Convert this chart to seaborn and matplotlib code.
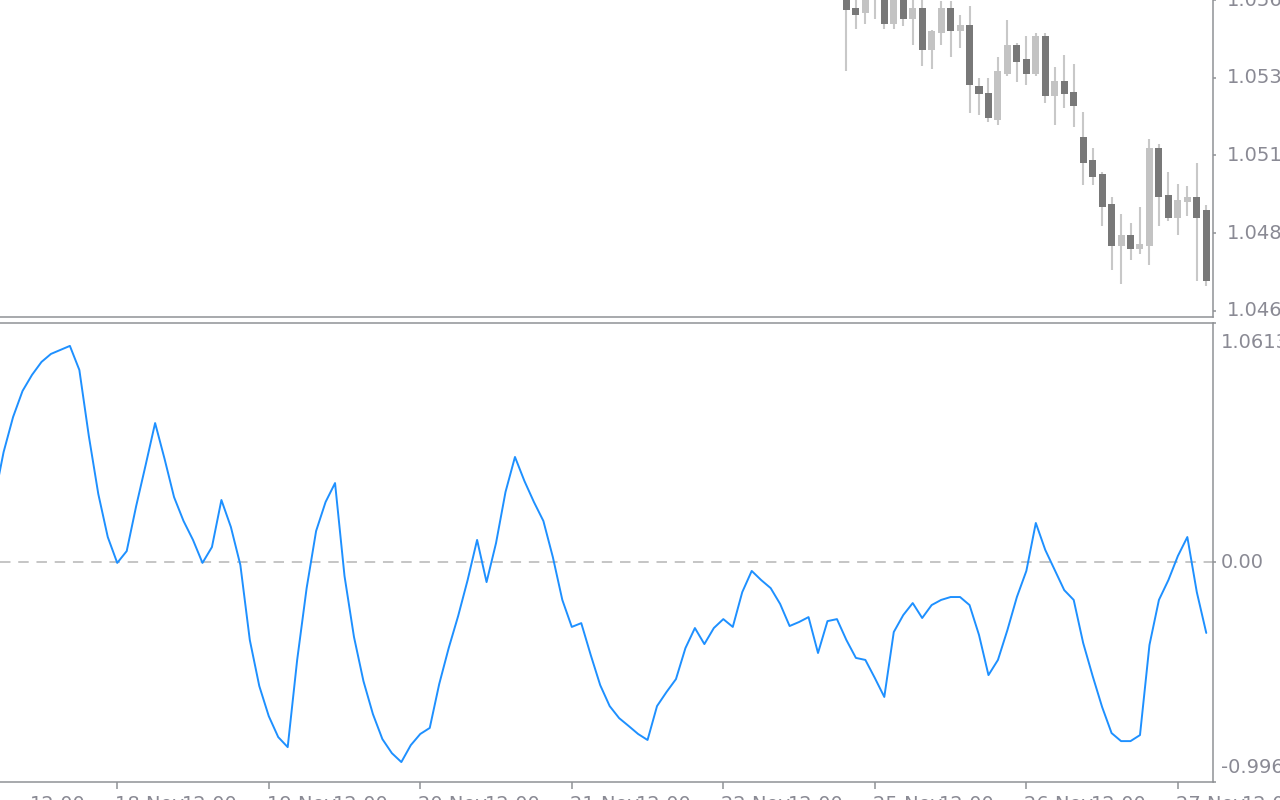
import numpy as np
import matplotlib
matplotlib.use("Agg")
import matplotlib.pyplot as plt
import matplotlib.transforms as mtransforms
import seaborn as sns

# oscillator, one value per bar, first value belongs to bar -1
osc_first_bar = -1
osc_values = [
    0.278, 0.493, 0.650, 0.767, 0.839, 0.897, 0.933, 0.951, 0.969, 0.861,
    0.565, 0.305, 0.112, -0.004, 0.049, 0.251, 0.435, 0.623, 0.462, 0.291,
    0.184, 0.099, -0.004, 0.067, 0.278, 0.157, -0.013, -0.350, -0.556, -0.691,
    -0.785, -0.830, -0.439, -0.117, 0.139, 0.269, 0.354, -0.063, -0.336, -0.534,
    -0.682, -0.794, -0.857, -0.897, -0.821, -0.771, -0.744, -0.547, -0.386, -0.242,
    -0.081, 0.099, -0.090, 0.085, 0.314, 0.471, 0.363, 0.269, 0.184, 0.022,
    -0.170, -0.291, -0.274, -0.417, -0.552, -0.646, -0.700, -0.735, -0.771, -0.798,
    -0.646, -0.583, -0.525, -0.386, -0.296, -0.368, -0.296, -0.256, -0.291, -0.135,
    -0.040, -0.081, -0.117, -0.188, -0.287, -0.269, -0.247, -0.408, -0.265, -0.256,
    -0.350, -0.430, -0.439, -0.520, -0.605, -0.314, -0.238, -0.184, -0.251, -0.193,
    -0.170, -0.157, -0.157, -0.193, -0.327, -0.507, -0.439, -0.305, -0.157, -0.040,
    0.175, 0.054, -0.036, -0.126, -0.170, -0.363, -0.511, -0.650, -0.767, -0.803,
    -0.803, -0.776, -0.372, -0.170, -0.081, 0.027, 0.112, -0.135, -0.318,
]

# candles visible in the price window (earlier bars sit above it)
candle_first_bar = 89
opens = [1.05668, 1.05575, 1.05559, 1.05652, 1.05620, 1.05522, 1.05613, 1.05538, 1.05575, 1.05439,
         1.05494, 1.05575, 1.05500, 1.05521, 1.05324, 1.05302, 1.05214, 1.05363, 1.05454, 1.05410,
         1.05363, 1.05483, 1.05290, 1.05340, 1.05303, 1.05159, 1.05086, 1.05041, 1.04943, 1.04807,
         1.04844, 1.04800, 1.04807, 1.05124, 1.04971, 1.04899, 1.04950, 1.04965, 1.04924]
highs = [1.05715, 1.05613, 1.05652, 1.05683, 1.05645, 1.05636, 1.05626, 1.05604, 1.05607, 1.05505,
         1.05598, 1.05598, 1.05553, 1.05582, 1.05350, 1.05350, 1.05416, 1.05537, 1.05461, 1.05483,
         1.05493, 1.05493, 1.05385, 1.05423, 1.05394, 1.05241, 1.05124, 1.05047, 1.04965, 1.04911,
         1.04882, 1.04933, 1.05152, 1.05136, 1.05047, 1.05009, 1.05003, 1.05076, 1.04940]
lows = [1.05373, 1.05506, 1.05522, 1.05538, 1.05506, 1.05506, 1.05516, 1.05455, 1.05387, 1.05379,
        1.05455, 1.05418, 1.05446, 1.05236, 1.05230, 1.05207, 1.05198, 1.05357, 1.05335, 1.05325,
        1.05357, 1.05268, 1.05198, 1.05252, 1.05191, 1.05004, 1.05004, 1.04873, 1.04730, 1.04686,
        1.04762, 1.04784, 1.04746, 1.04873, 1.04889, 1.04845, 1.04905, 1.04695, 1.04679]
closes = [1.05567, 1.05553, 1.05626, 1.05607, 1.05522, 1.05620, 1.05538, 1.05575, 1.05439, 1.05499,
          1.05575, 1.05500, 1.05521, 1.05325, 1.05296, 1.05220, 1.05372, 1.05454, 1.05401, 1.05363,
          1.05483, 1.05290, 1.05340, 1.05296, 1.05258, 1.05077, 1.05032, 1.04934, 1.04807, 1.04844,
          1.04800, 1.04815, 1.05124, 1.04966, 1.04899, 1.04955, 1.04965, 1.04899, 1.04695]

price_ticks = [1.0460, 1.0485, 1.0510, 1.0535, 1.0560]
price_limits = (1.04580, 1.05588)

osc_limits = (-0.985, 1.073)
osc_labels = ["-0.996", "0.00", "1.0613"]

date_ticks = [12, 28, 44, 60, 76, 92, 108, 124]
date_labels = ["18 Nov", "19 Nov", "20 Nov", "21 Nov", "22 Nov", "25 Nov", "26 Nov", "27 Nov"]
time_ticks = [3, 19, 35, 51, 67, 83, 99, 115, 131]
time_labels = ["12:00"] * len(time_ticks)

bar_limits = (-0.38, 127.71)

BLUE = "#1e90ff"
FRAME = "#909296"
TEXT = "#8a8a94"
BULL = "#c3c3c3"
BEAR = "#787878"
WICK = "#c8c8c8"
LEVEL = "#c0c0c0"

sns.set_theme(style="white")
plt.rcParams["font.family"] = ["DejaVu Sans"]
FS = 14

fig = plt.figure(figsize=(12.8, 8), dpi=100)
W, H = 1280, 800
ax_p = fig.add_axes([0, 1 - 317 / H, 1213 / W, 317 / H])
ax_o = fig.add_axes([0, 1 - 781.7 / H, 1213 / W, (781.7 - 322.7) / H])

# --- price panel: candles
o = np.array(opens)
h = np.array(highs)
l = np.array(lows)
c = np.array(closes)
cbars = np.arange(candle_first_bar, candle_first_bar + len(o))
ax_p.vlines(cbars, l, h, color=WICK, linewidth=1.5, zorder=1)
body_lo = np.minimum(o, c)
body_h = np.maximum(np.abs(c - o), 0.00003)
colors = np.where(c >= o, BULL, BEAR)
ax_p.bar(cbars, body_h, bottom=body_lo, width=0.74, color=colors, linewidth=0, zorder=2)

ax_p.set_xlim(*bar_limits)
ax_p.set_ylim(*price_limits)
ax_p.set_xticks([])
ax_p.set_yticks(price_ticks)
ax_p.set_yticklabels([])
ax_p.yaxis.tick_right()
ax_p.tick_params(axis="y", length=2.4, width=1.1, color=FRAME, direction="out")
for side in ["top", "left"]:
    ax_p.spines[side].set_visible(False)
for side in ["right", "bottom"]:
    ax_p.spines[side].set_color(FRAME)
    ax_p.spines[side].set_linewidth(1.1)

ptr = mtransforms.offset_copy(
    mtransforms.blended_transform_factory(ax_p.transAxes, ax_p.transData),
    fig=fig, x=14, y=0, units="dots")
for v in price_ticks:
    ax_p.text(1, v, f"{v:.4f}", transform=ptr, ha="left", va="center",
              fontsize=FS, color=TEXT, clip_on=False)

# --- oscillator panel
obars = np.arange(osc_first_bar, osc_first_bar + len(osc_values))
sns.lineplot(x=obars, y=osc_values, ax=ax_o, color=BLUE, linewidth=1.4, zorder=3)
ax_o.axhline(0, color=LEVEL, linewidth=1.3, linestyle=(0, (5.8, 4.3)), zorder=1)

ax_o.set_xlim(*bar_limits)
ax_o.set_ylim(*osc_limits)
ax_o.set_ylabel("")
ax_o.set_xlabel("")
ax_o.set_yticks([osc_limits[0], 0, osc_limits[1]])
ax_o.set_yticklabels([])
ax_o.yaxis.tick_right()
ax_o.set_xticks(date_ticks)
ax_o.set_xticklabels([])
ax_o.tick_params(axis="y", length=2.4, width=1.1, color=FRAME, direction="out")
ax_o.tick_params(axis="x", length=5, width=1.1, color=FRAME, direction="out", bottom=True)
ax_o.spines["left"].set_visible(False)
for side in ["top", "right", "bottom"]:
    ax_o.spines[side].set_color(FRAME)
    ax_o.spines[side].set_linewidth(1.1)

oblend = mtransforms.blended_transform_factory(ax_o.transAxes, ax_o.transData)
for v, lab, dy, va in zip([osc_limits[0], 0, osc_limits[1]], osc_labels,
                          [5, 0, -10], ["bottom", "center", "top"]):
    tr = mtransforms.offset_copy(oblend, fig=fig, x=8, y=dy, units="dots")
    ax_o.text(1, v, lab, transform=tr, ha="left", va=va, fontsize=FS,
              color=TEXT, clip_on=False)

# time axis labels sit mostly below the bottom edge, as in the screenshot
xblend = mtransforms.blended_transform_factory(ax_o.transData, ax_o.transAxes)
xtr = mtransforms.offset_copy(xblend, fig=fig, x=-2, y=-13, units="dots")
for b, lab in list(zip(date_ticks, date_labels)) + list(zip(time_ticks, time_labels)):
    ax_o.text(b, 0, lab, transform=xtr, ha="left", va="top", fontsize=FS,
              color=TEXT, clip_on=False)

fig.savefig("out.png", dpi=100)
plt.close(fig)
